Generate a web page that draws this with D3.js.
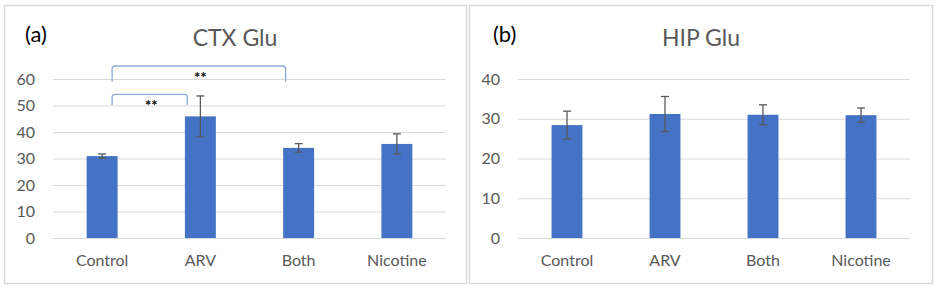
<!DOCTYPE html>
<html>
<head>
<meta charset="utf-8">
<script src="https://cdn.jsdelivr.net/npm/d3@7"></script>
<style>
  body { margin: 0; background: #fff; }
  svg { display: block; font-family: Lato, "Open Sans", sans-serif; }
</style>
</head>
<body>
<svg id="chart" width="936" height="290"></svg>
<script>
// Data
const categories = ['Control', 'ARV', 'Both', 'Nicotine'];

const ctxMeans = [30.9, 45.9, 34.0, 35.5];
const ctxErrors = [0.8, 7.7, 1.6, 3.8];
const ctxTicks = [0, 10, 20, 30, 40, 50, 60];

const hipMeans = [28.4, 31.2, 31.0, 30.9];
const hipErrors = [3.5, 4.4, 2.5, 1.8];
const hipTicks = [0, 10, 20, 30, 40];

// significance brackets on the CTX panel
const ctxBrackets = [
    {from: 'Control', to: 'ARV', top: 54.2, leg: 50.2, label: '**'},
    {from: 'Control', to: 'Both', top: 64.9, leg: 59.0, label: '**'}
];

const svg = d3.select('#chart');
svg.append('rect').attr('width', 936).attr('height', 290).attr('fill', '#fff');

const barColor = '#4472C4';
const textColor = '#595959';

function drawPanel(opts) {
    const g = svg.append('g');

    // panel frame
    g.append('rect')
        .attr('x', opts.frame[0] + 0.5)
        .attr('y', 5.5)
        .attr('width', opts.frame[1] - opts.frame[0])
        .attr('height', 278)
        .attr('fill', 'none')
        .attr('stroke', '#d9d9d9')
        .attr('stroke-width', 1.5);

    const xScale = d3.scaleBand()
        .domain(categories)
        .range(opts.xRange)
        .paddingInner(0.685)
        .paddingOuter(0.3425);

    const yScale = d3.scaleLinear()
        .domain([0, d3.max(opts.ticks)])
        .range([238, 79]);

    // y axis with gridlines
    const yAxis = g.append('g')
        .attr('transform', `translate(${opts.xRange[0]},0)`)
        .call(d3.axisLeft(yScale)
            .tickValues(opts.ticks)
            .tickSize(-(opts.xRange[1] - opts.xRange[0]))
            .tickPadding(18));
    yAxis.select('.domain').remove();
    yAxis.selectAll('line').attr('stroke', '#d9d9d9').attr('stroke-width', 1.2);
    yAxis.selectAll('text')
        .attr('fill', textColor)
        .style('font-size', '16px')
        .style('font-family', 'Lato, sans-serif');

    // x axis labels
    const xAxis = g.append('g')
        .attr('transform', 'translate(0,238)')
        .call(d3.axisBottom(xScale).tickSize(0).tickPadding(17));
    xAxis.select('.domain').remove();
    xAxis.selectAll('text')
        .attr('fill', textColor)
        .style('font-size', '16px')
        .style('font-family', 'Lato, sans-serif');

    const data = categories.map((c, i) => ({cat: c, mean: opts.means[i], err: opts.errors[i]}));

    // bars
    g.selectAll('.bar')
        .data(data)
        .enter()
        .append('rect')
        .attr('class', 'bar')
        .attr('x', d => xScale(d.cat))
        .attr('y', d => yScale(d.mean))
        .attr('width', xScale.bandwidth())
        .attr('height', d => yScale(0) - yScale(d.mean))
        .attr('fill', barColor);

    // error bars
    const cx = d => xScale(d.cat) + xScale.bandwidth() / 2;
    const eb = g.selectAll('.err')
        .data(data)
        .enter()
        .append('g')
        .attr('class', 'err')
        .attr('stroke', textColor)
        .attr('stroke-width', 1.3);
    eb.append('line')
        .attr('x1', cx).attr('x2', cx)
        .attr('y1', d => yScale(d.mean + d.err))
        .attr('y2', d => yScale(d.mean - d.err));
    eb.append('line')
        .attr('x1', d => cx(d) - 4).attr('x2', d => cx(d) + 4)
        .attr('y1', d => yScale(d.mean + d.err))
        .attr('y2', d => yScale(d.mean + d.err));
    eb.append('line')
        .attr('x1', d => cx(d) - 4).attr('x2', d => cx(d) + 4)
        .attr('y1', d => yScale(d.mean - d.err))
        .attr('y2', d => yScale(d.mean - d.err));

    // brackets
    const center = c => xScale(c) + xScale.bandwidth() / 2;
    (opts.brackets || []).forEach(b => {
        const x1 = center(b.from) + 10;
        const x2 = center(b.to) - 13;
        const yt = yScale(b.top);
        const yl = yScale(b.leg);
        const r = 3;
        g.append('path')
            .attr('d', `M${x1},${yl} L${x1},${yt + r} Q${x1},${yt} ${x1 + r},${yt} ` +
                `L${x2 - r},${yt} Q${x2},${yt} ${x2},${yt + r} L${x2},${yl}`)
            .attr('fill', 'none')
            .attr('stroke', '#8eaadb')
            .attr('stroke-width', 1.3);
        g.append('text')
            .attr('x', (x1 + x2) / 2 + 1.5)
            .attr('y', yt + 17)
            .attr('text-anchor', 'middle')
            .style('font-size', '15px')
            .style('font-weight', 'bold')
            .attr('fill', '#000')
            .text(b.label);
    });

    // title and panel letter
    g.append('text')
        .attr('x', opts.titleX)
        .attr('y', 46)
        .attr('text-anchor', 'middle')
        .attr('fill', textColor)
        .style('font-size', '23px')
        .text(opts.title);
    g.append('text')
        .attr('x', opts.letterX)
        .attr('y', 42)
        .attr('fill', '#000')
        .style('font-size', '22px')
        .text(opts.letter);
}

drawPanel({
    frame: [4, 466], xRange: [53, 446], ticks: ctxTicks,
    means: ctxMeans, errors: ctxErrors, brackets: ctxBrackets,
    title: 'CTX Glu', titleX: 235, letter: '(a)', letterX: 25
});

drawPanel({
    frame: [469, 932], xRange: [518, 910], ticks: hipTicks,
    means: hipMeans, errors: hipErrors,
    title: 'HIP Glu', titleX: 701, letter: '(b)', letterX: 493
});
</script>
</body>
</html>
